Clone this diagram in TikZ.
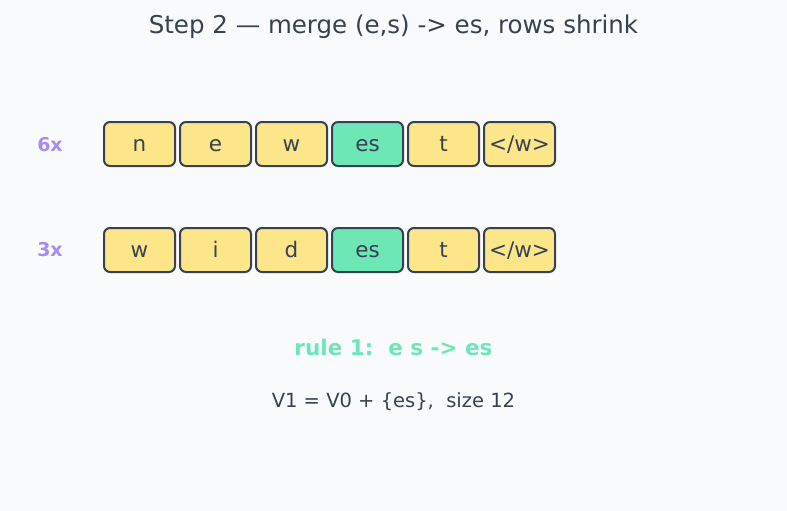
\documentclass[tikz,border=0pt]{standalone}
\usepackage{fontspec}
\setmainfont{DejaVu Sans}
\usetikzlibrary{positioning}
\definecolor{pagebg}{HTML}{FAFBFD}
\definecolor{ink}{HTML}{374151}
\definecolor{tokyellow}{HTML}{FDE68A}
\definecolor{tokgreen}{HTML}{6EE7B7}
\definecolor{countpurple}{HTML}{A78BFA}
\tikzset{
  tok/.style={rectangle, rounded corners=6pt, draw=ink, line width=2pt,
    fill=tokyellow, minimum width=71pt, minimum height=44pt, inner sep=0pt,
    text height=18pt, text depth=2.2pt,
    text=ink, font=\fontsize{21.5}{24}\selectfont},
  merged/.style={tok, fill=tokgreen},
  count/.style={text=countpurple, font=\bfseries\fontsize{19}{22}\selectfont},
  caption/.style={text=ink, font=\fontsize{19.5}{23}\selectfont},
}

\begin{document}
\begin{tikzpicture}[x=1pt, y=-1pt]
  \fill[pagebg] (0,0) rectangle (787,511);
  \useasboundingbox (0,0) rectangle (787,511);
  \node[text=ink, font=\fontsize{24.5}{28}\selectfont] (title) at (393.5,27)
    {Step 2 — merge (e,s) -> es, rows shrink};
  % first row: new + t
  \node[count] (cnta) at (50,145) {6x};
  \foreach \i/\t/\s in {0/n/tok, 1/e/tok, 2/w/tok, 3/es/merged, 4/t/tok, 5/{</w>}/tok}
    \node[\s] (a\i) at (139.5+76*\i,144) {\t};
  % second row: wid + est
  \node[count] (cntb) at (50,250) {3x};
  \foreach \i/\t/\s in {0/w/tok, 1/i/tok, 2/d/tok, 3/es/merged, 4/t/tok, 5/{</w>}/tok}
    \node[\s] (b\i) at (139.5+76*\i,250) {\t};
  \node[text=tokgreen, font=\bfseries\fontsize{21.5}{25}\selectfont] (rule) at (393.5,347)
    {rule 1:\ \ e s -> es};
  \node[caption] (vocab) at (393.5,402) {V1 = V0 + \{es\},\ \ size 12};
\end{tikzpicture}
\end{document}
